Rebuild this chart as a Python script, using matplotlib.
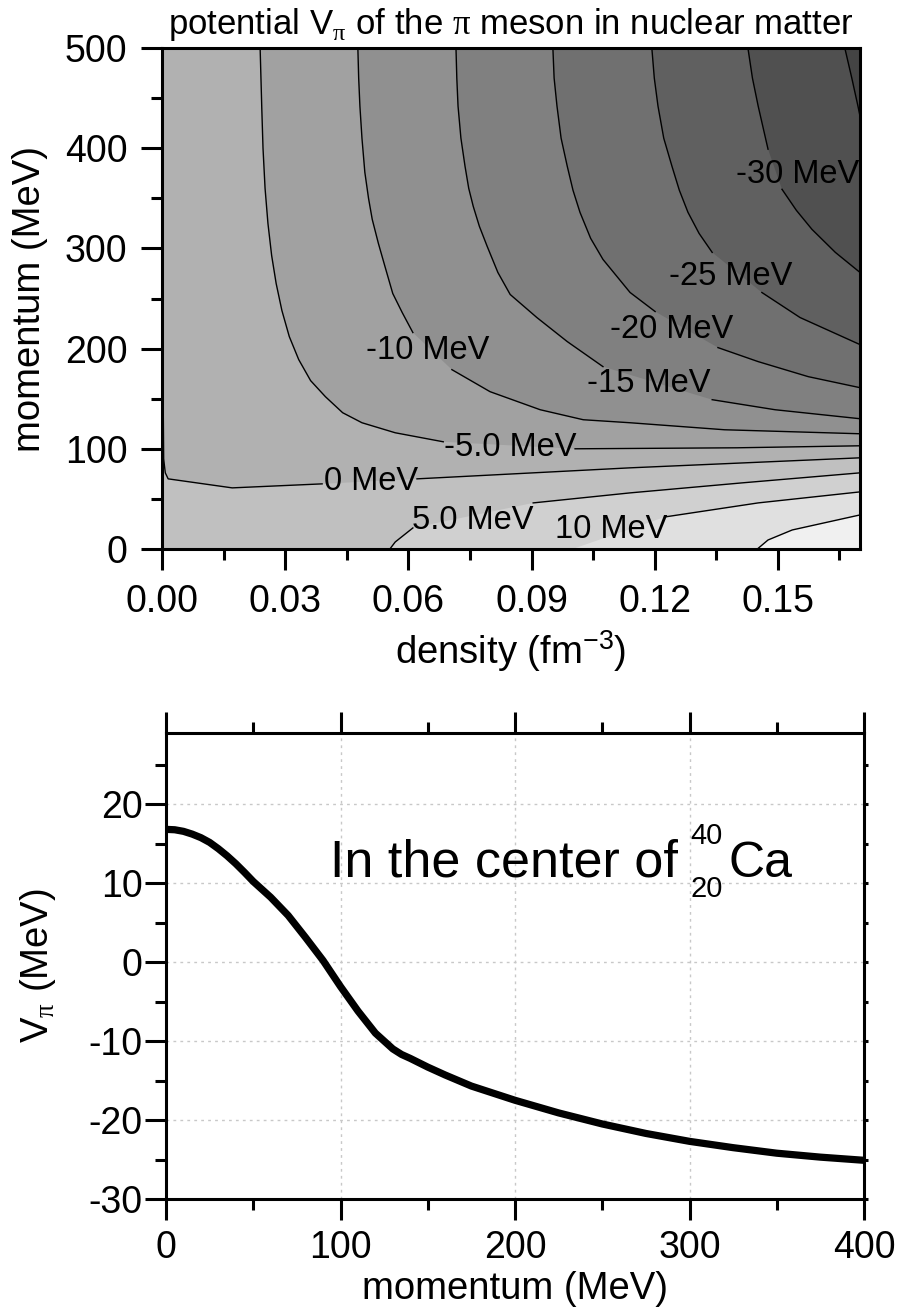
import numpy as np
import matplotlib
matplotlib.use('Agg')
import matplotlib.pyplot as plt
from matplotlib.ticker import MultipleLocator, FormatStrFormatter

plt.rcParams['font.family'] = 'Liberation Sans'
plt.rcParams['mathtext.fontset'] = 'custom'
plt.rcParams['mathtext.rm'] = 'Liberation Serif'
plt.rcParams['mathtext.sf'] = 'Liberation Sans'
plt.rcParams['axes.unicode_minus'] = False

nan = np.nan

# ---- top panel: contour lines of V_pi(density, momentum) ----
# density in fm^-3, momentum in MeV; nan marks the gap where the label sits
rho_m35 = [0.1663, 0.1680, 0.1695, 0.1700]
p_m35 = [500, 470, 442, 432]

rho_m30 = [0.1427, 0.1438, 0.1452, 0.1476, nan, 0.1510, 0.1545, 0.1583, 0.1640, 0.1700]
p_m30 = [500, 470, 442, 399, nan, 359, 338, 319, 296, 276]

rho_m25 = [0.1193, 0.1199, 0.1208, 0.1222, 0.1242, 0.1260, 0.1281, 0.1308, 0.1340, nan,
           0.1461, 0.1554, 0.1700]
p_m25 = [500, 470, 442, 410, 382, 358, 336, 315, 296, nan, 256, 231, 204]

rho_m20 = [0.0952, 0.0955, 0.0962, 0.0972, 0.0987, 0.1001, 0.1018, 0.1044, 0.1074,
           0.1140, 0.1201, nan, 0.1354, 0.1452, 0.1574, 0.1700]
p_m20 = [500, 470, 442, 410, 382, 358, 336, 310, 289, 256, 237, nan, 201, 187, 172, 161]

rho_m15 = [0.0716, 0.0718, 0.0721, 0.0728, 0.0738, 0.0747, 0.0758, 0.0773, 0.0792,
           0.0818, 0.0848, 0.0913, 0.0987, 0.1074, nan, 0.1340, 0.1493, 0.1700]
p_m15 = [500, 470, 442, 410, 382, 360, 342, 322, 302, 276, 254, 231, 207, 182, nan,
         149, 139, 130]

rho_m10 = [0.0477, 0.0479, 0.0482, 0.0487, 0.0494, 0.0503, 0.0512, 0.0527, 0.0543,
           0.0562, 0.0585, 0.0611, nan, 0.0706, 0.0799, 0.0921, 0.1026, 0.1140, 0.1370,
           0.1700]
p_m10 = [500, 470, 442, 410, 376, 350, 329, 305, 282, 255, 236, 216, nan, 179, 157, 139,
         129, 126, 119, 115]

rho_m5 = [0.0239, 0.0241, 0.0243, 0.0246, 0.0251, 0.0258, 0.0267, 0.0278, 0.0292, 0.0310,
          0.0333, 0.0362, 0.0398, 0.0440, 0.0487, 0.0568, 0.0685, nan, 0.1006, 0.1400,
          0.1700]
p_m5 = [500, 470, 440, 400, 360, 325, 293, 265, 238, 212, 189, 168, 152, 136, 126, 116,
        107, nan, 100, 101, 103]

rho_0 = [0.0003, 0.0004, 0.0008, 0.0015, 0.0171, 0.0390, nan, 0.0621, 0.1140, 0.1700]
p_0 = [141, 90, 76, 70, 61, 65, nan, 70, 81, 91]

rho_5 = [0.0555, 0.0568, 0.0611, nan, 0.0904, 0.1140, 0.1413, 0.1700]
p_5 = [0, 7, 21, nan, 46, 56, 66, 76]

rho_10 = [0.1000, nan, 0.1225, 0.1452, 0.1700]
p_10 = [0, nan, 32, 46, 57]

rho_15 = [0.1450, 0.1476, 0.1535, 0.1700]
p_15 = [0, 9, 19, 34]

levels = [15, 10, 5, 0, -5, -10, -15, -20, -25, -30, -35]
lines_rho = [rho_15, rho_10, rho_5, rho_0, rho_m5, rho_m10, rho_m15, rho_m20, rho_m25,
             rho_m30, rho_m35]
lines_p = [p_15, p_10, p_5, p_0, p_m5, p_m10, p_m15, p_m20, p_m25, p_m30, p_m35]
band_colors = ['#e0e0e0', '#d0d0d0', '#c0c0c0', '#b1b1b1', '#a1a1a1', '#909090',
               '#808080', '#707070', '#606060', '#505050', '#444444']

# contour labels
lab_text = ['-30 MeV', '-25 MeV', '-20 MeV', '-15 MeV', '-10 MeV', '-5.0 MeV',
            '0 MeV', '5.0 MeV', '10 MeV']
lab_rho = [0.1547, 0.1384, 0.1240, 0.1186, 0.0646, 0.0848, 0.0509, 0.0758, 0.1094]
lab_p = [374, 272, 219, 165, 198, 101, 67, 28, 19]

# ---- bottom panel: V_pi in the center of 40Ca ----
p_ca = [0, 5, 10, 15, 20, 25, 30, 35, 40, 45, 50, 55, 60, 70, 80, 90, 100, 110, 120,
        130, 135, 140, 150, 160, 175, 200, 225, 250, 275, 300, 325, 350, 375, 400]
v_ca = [16.8, 16.75, 16.55, 16.2, 15.75, 15.15, 14.35, 13.45, 12.45, 11.35, 10.2, 9.2,
        8.2, 5.9, 3.1, 0.2, -3.1, -6.2, -9.0, -11.0, -11.7, -12.2, -13.3, -14.3, -15.7,
        -17.5, -19.1, -20.5, -21.7, -22.7, -23.5, -24.2, -24.7, -25.1]

rho_max = 0.17
p_max = 500

fig = plt.figure(figsize=(9.01, 13.15), dpi=100)

# ================= top panel =================
ax1 = fig.add_axes([162 / 901, 1 - 549 / 1315, 698 / 901, 501 / 1315])
ax1.set_facecolor('#f0f0f0')

for lev, xr, yp, col in zip(levels, lines_rho, lines_p, band_colors):
    x = np.array(xr, dtype=float)
    y = np.array(yp, dtype=float)
    ok = np.isfinite(x)
    fx = list(x[ok])
    fy = list(y[ok])
    # close the region where V is below this level
    if lev > 0:
        fx += [rho_max, 0, 0]
        fy += [p_max, p_max, 0]
    elif lev == 0:
        fx += [rho_max, 0]
        fy += [p_max, p_max]
    else:
        fx += [rho_max]
        fy += [p_max]
    ax1.fill(fx, fy, color=col, lw=0, zorder=1)

for xr, yp in zip(lines_rho, lines_p):
    ax1.plot(xr, yp, color='black', lw=1.0, zorder=2)

for t, xr, yp in zip(lab_text, lab_rho, lab_p):
    ax1.text(xr, yp, t, fontsize=23.5, ha='center', va='center', zorder=3)

ax1.set_xlim(0, rho_max)
ax1.set_ylim(0, p_max)
ax1.xaxis.set_major_locator(MultipleLocator(0.03))
ax1.xaxis.set_minor_locator(MultipleLocator(0.015))
ax1.xaxis.set_major_formatter(FormatStrFormatter('%.2f'))
ax1.yaxis.set_major_locator(MultipleLocator(100))
ax1.yaxis.set_minor_locator(MultipleLocator(50))
ax1.tick_params(which='both', direction='out', width=2.2, labelsize=27)
ax1.tick_params(which='major', length=15)
ax1.tick_params(which='minor', length=8)
ax1.tick_params(axis='x', which='both', pad=10)
ax1.tick_params(axis='y', which='both', pad=10)
for s in ax1.spines.values():
    s.set_linewidth(2.2)
    s.set_zorder(5)
ax1.set_xlabel(r'density (fm$^{\mathsf{-3}}$)', fontsize=27.5, labelpad=6)
ax1.set_ylabel('momentum (MeV)', fontsize=27.5, labelpad=12)
ax1.set_title(r'potential V$_{\mathrm{\pi}}$ of the $\mathrm{\pi}$ meson in nuclear matter',
              fontsize=25, pad=10)

# ================= bottom panel =================
ax2 = fig.add_axes([166 / 901, 1 - 1199 / 1315, 698 / 901, 466 / 1315])
ax2.plot(p_ca, v_ca, color='black', lw=5.2, solid_capstyle='butt', zorder=3)
ax2.set_xlim(0, 400)
ax2.set_ylim(-30, 29)
ax2.xaxis.set_major_locator(MultipleLocator(100))
ax2.xaxis.set_minor_locator(MultipleLocator(50))
ax2.yaxis.set_major_locator(MultipleLocator(10))
ax2.yaxis.set_minor_locator(MultipleLocator(5))
ax2.grid(True, which='major', color='#c8c8c8', lw=1, ls=(0, (2, 3)))
ax2.tick_params(which='both', direction='out', width=2.2, labelsize=27,
                top=True, labeltop=False)
ax2.tick_params(which='major', length=15)
ax2.tick_params(which='minor', length=8)
ax2.tick_params(axis='x', which='both', pad=7)
ax2.tick_params(axis='y', which='both', pad=2)
ax2.tick_params(axis='y', which='both', right=True, left=True)
# short marks on the right spine
for t in ax2.yaxis.get_ticklines(minor=False)[1::2] + ax2.yaxis.get_ticklines(minor=True)[1::2]:
    t.set_markersize(3)
for s in ax2.spines.values():
    s.set_linewidth(2.2)
ax2.set_xlabel('momentum (MeV)', fontsize=27.5, labelpad=4)
ax2.set_ylabel(r'V$_{\mathrm{\pi}}$ (MeV)', fontsize=27.5, labelpad=22)

ax2.text(0.235, 0.692, 'In the center of', transform=ax2.transAxes, fontsize=37.5,
         ha='left', va='baseline')
ax2.text(0.751, 0.762, '40', transform=ax2.transAxes, fontsize=21, ha='left', va='baseline')
ax2.text(0.751, 0.648, '20', transform=ax2.transAxes, fontsize=21, ha='left', va='baseline')
ax2.text(0.806, 0.692, 'Ca', transform=ax2.transAxes, fontsize=36, ha='left', va='baseline')

fig.savefig('out.png', dpi=100)
